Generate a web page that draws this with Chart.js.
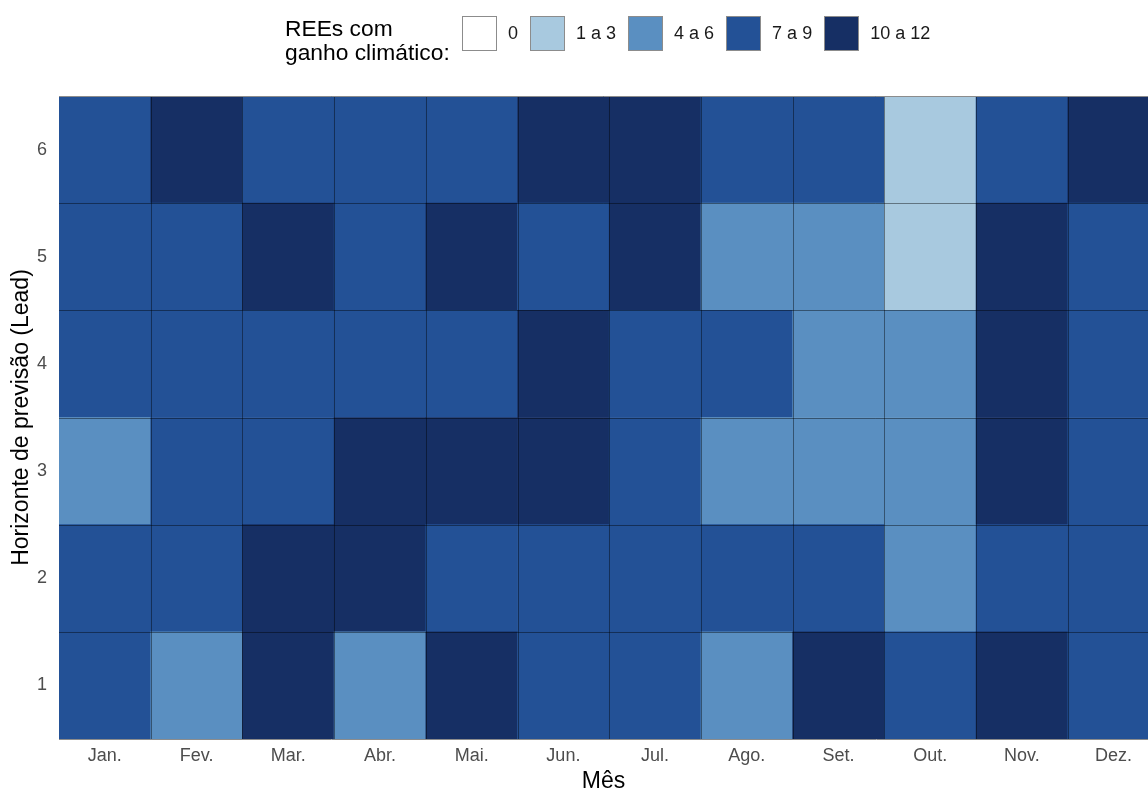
<!DOCTYPE html>
<html lang="pt">

<head>
  <meta charset="UTF-8">
  <meta name="viewport" content="width=device-width, initial-scale=1.0">
  <script src="https://cdn.jsdelivr.net/npm/chart.js"></script>
  <title>REEs com ganho climático</title>
  <style>
    body {
      margin: 0;
      background: #fff;
      font-family: "Liberation Sans", Arial, sans-serif;
    }

    .wrap {
      position: relative;
      width: 1148px;
      height: 789px;
      overflow: hidden;
    }

    .legend-title {
      position: absolute;
      left: 285px;
      top: 16px;
      font-size: 22.8px;
      line-height: 24px;
      color: #000;
    }

    .legend {
      position: absolute;
      left: 462px;
      top: 16px;
      display: flex;
      align-items: center;
    }

    .key {
      display: flex;
      align-items: center;
      margin-right: 12px;
    }

    .key .box {
      width: 35px;
      height: 35px;
      box-sizing: border-box;
      border: 1px solid #8c8c8c;
      margin-right: 11px;
    }

    .key .txt {
      font-size: 18px;
      color: #1a1a1a;
    }
  </style>
</head>

<body>
  <div class="wrap">
    <canvas id="myChart" width="1148" height="789"></canvas>
    <div class="legend-title">REEs com<br>ganho climático:</div>
    <div class="legend" id="legend"></div>
  </div>

  <script>
    // classes of the legend and their fill colours
    const classes = ['0', '1 a 3', '4 a 6', '7 a 9', '10 a 12'];
    const classColors = ['#ffffff', '#a8c9df', '#5a8fc1', '#235196', '#162f64'];

    const months = ['Jan.', 'Fev.', 'Mar.', 'Abr.', 'Mai.', 'Jun.', 'Jul.', 'Ago.', 'Set.', 'Out.', 'Nov.', 'Dez.'];
    const leads = [1, 2, 3, 4, 5, 6];

    // class of each month, one list per forecast lead
    const lead1 = ['7 a 9', '4 a 6', '10 a 12', '4 a 6', '10 a 12', '7 a 9', '7 a 9', '4 a 6', '10 a 12', '7 a 9', '10 a 12', '7 a 9'];
    const lead2 = ['7 a 9', '7 a 9', '10 a 12', '10 a 12', '7 a 9', '7 a 9', '7 a 9', '7 a 9', '7 a 9', '4 a 6', '7 a 9', '7 a 9'];
    const lead3 = ['4 a 6', '7 a 9', '7 a 9', '10 a 12', '10 a 12', '10 a 12', '7 a 9', '4 a 6', '4 a 6', '4 a 6', '10 a 12', '7 a 9'];
    const lead4 = ['7 a 9', '7 a 9', '7 a 9', '7 a 9', '7 a 9', '10 a 12', '7 a 9', '7 a 9', '4 a 6', '4 a 6', '10 a 12', '7 a 9'];
    const lead5 = ['7 a 9', '7 a 9', '10 a 12', '7 a 9', '10 a 12', '7 a 9', '10 a 12', '4 a 6', '4 a 6', '1 a 3', '10 a 12', '7 a 9'];
    const lead6 = ['7 a 9', '10 a 12', '7 a 9', '7 a 9', '7 a 9', '10 a 12', '10 a 12', '7 a 9', '7 a 9', '1 a 3', '7 a 9', '10 a 12'];
    const grid = [lead1, lead2, lead3, lead4, lead5, lead6];

    // html legend
    const legendEl = document.getElementById('legend');
    classes.forEach((c, i) => {
      const key = document.createElement('div');
      key.className = 'key';
      key.innerHTML = '<span class="box" style="background:' + classColors[i] + '"></span><span class="txt">' + c + '</span>';
      legendEl.appendChild(key);
    });

    // thin dark lines between the tiles + gray line on top of the panel
    const cellLines = {
      id: 'cellLines',
      afterDatasetsDraw(chart) {
        const c = chart.ctx;
        const a = chart.chartArea;
        const x = chart.scales.x;
        const y = chart.scales.y;
        c.save();
        c.strokeStyle = 'rgba(0, 0, 0, 0.42)';
        c.lineWidth = 1;
        c.beginPath();
        for (let i = 1; i < months.length; i++) {
          const px = Math.round(x.getPixelForValue(i + 0.5)) + 0.5;
          c.moveTo(px, a.top);
          c.lineTo(px, a.bottom);
        }
        for (let j = 1; j < leads.length; j++) {
          const py = Math.round(y.getPixelForValue(j + 0.5)) + 0.5;
          c.moveTo(a.left, py);
          c.lineTo(a.right, py);
        }
        c.stroke();
        c.strokeStyle = '#8c8c8c';
        c.beginPath();
        c.moveTo(a.left, a.top + 0.5);
        c.lineTo(a.right, a.top + 0.5);
        c.stroke();
        c.restore();
      }
    };

    const fontFamily = '"Liberation Sans", Arial, sans-serif';
    const ctx = document.getElementById('myChart');
    const myChart = new Chart(ctx, {
      type: 'bar',
      data: {
        datasets: leads.map((lead, r) => ({
          label: 'Lead ' + lead,
          data: months.map((m, i) => ({ x: i + 1, y: [lead - 0.5, lead + 0.5] })),
          backgroundColor: grid[r].map(c => classColors[classes.indexOf(c)]),
          borderWidth: 0,
          borderSkipped: false,
          grouped: false,
          barPercentage: 1,
          categoryPercentage: 1
        }))
      },
      options: {
        responsive: false,
        animation: false,
        layout: { padding: { top: 96, left: 0, right: 0, bottom: 0 } },
        plugins: {
          legend: { display: false },
          tooltip: { enabled: false }
        },
        scales: {
          x: {
            type: 'linear',
            min: 0.5,
            max: 12.375,
            offset: false,
            grid: { display: false, drawTicks: false, offset: false },
            border: { display: true, color: '#8c8c8c', width: 1 },
            afterBuildTicks: s => { s.ticks = months.map((m, i) => ({ value: i + 1 })); },
            afterFit: s => { s.height = 50; },
            ticks: {
              autoSkip: false,
              maxRotation: 0,
              padding: 6,
              color: '#4d4d4d',
              font: { family: fontFamily, size: 18 },
              callback: v => months[v - 1]
            },
            title: {
              display: true,
              text: 'Mês',
              color: '#000',
              padding: { top: 0, bottom: -4 },
              font: { family: fontFamily, size: 23, lineHeight: 1 }
            }
          },
          y: {
            type: 'linear',
            min: 0.5,
            max: 6.5,
            grid: { display: false, drawTicks: false },
            border: { display: true, color: '#8c8c8c', width: 1 },
            afterBuildTicks: s => { s.ticks = leads.map(l => ({ value: l })); },
            afterFit: s => { s.width = 59; },
            ticks: {
              padding: 12,
              color: '#4d4d4d',
              font: { family: fontFamily, size: 18 }
            },
            title: {
              display: true,
              text: 'Horizonte de previsão (Lead)',
              color: '#000',
              padding: { top: 10, bottom: 0 },
              font: { family: fontFamily, size: 23, lineHeight: 1 }
            }
          }
        }
      },
      plugins: [cellLines]
    });
  </script>
</body>

</html>
